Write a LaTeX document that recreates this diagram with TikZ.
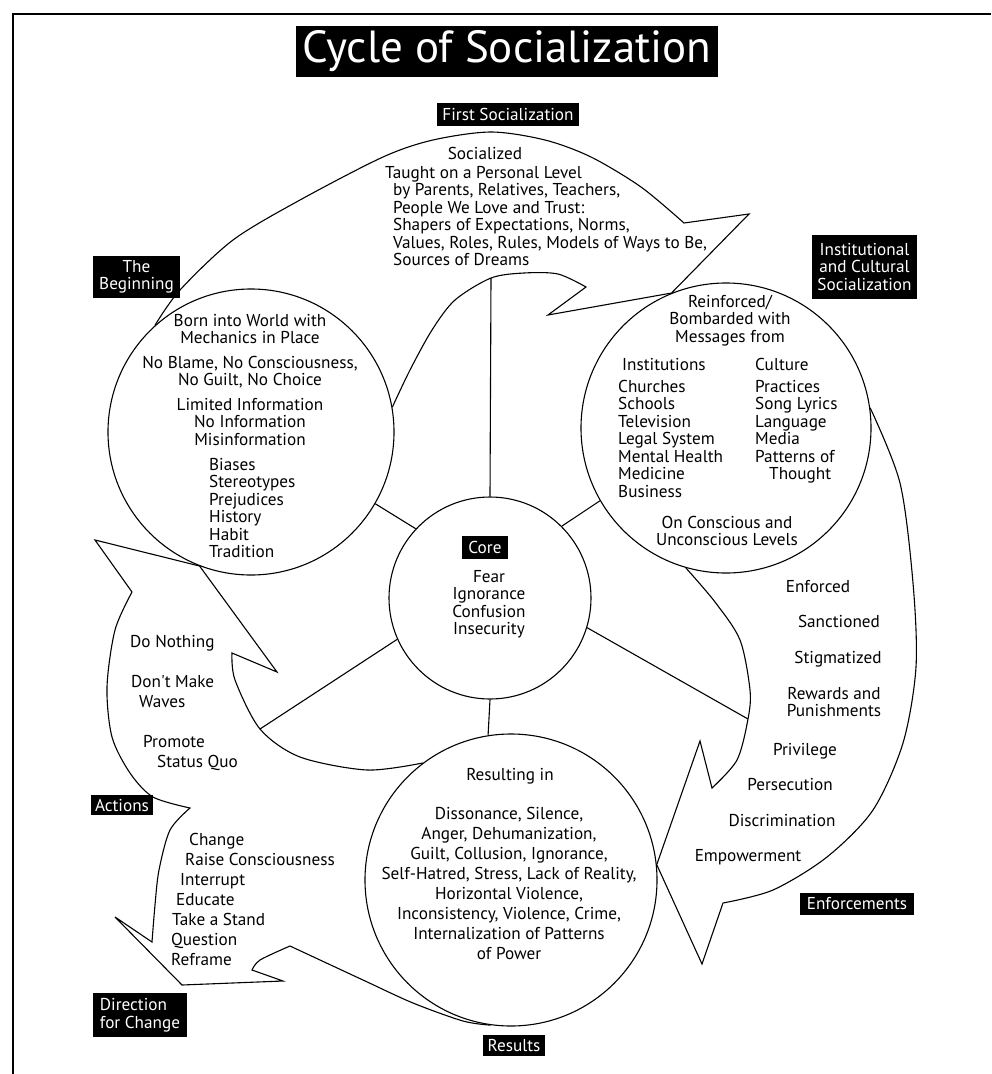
\documentclass[tikz,border=0pt]{standalone}
\usepackage{fontspec}
\setmainfont{PT Sans}[Ligatures=TeXOff]

\tikzset{
  tag/.style={fill=black, text=white, inner sep=2pt, align=center,
    font=\fontsize{17.2}{17.5}\selectfont},
  ring/.style={draw, circle, line width=1.1pt, inner sep=0pt},
  body/.style={inner sep=0pt, font=\fontsize{17.2}{17.5}\selectfont},
  widebody/.style={inner sep=0pt, font=\fontsize{17.2}{20}\selectfont},
  outline/.style={line width=1.1pt, line join=miter},
  spoke/.style={line width=1.1pt},
}

\begin{document}
\begin{tikzpicture}[x=1pt,y=-1pt]
\useasboundingbox (0,0) rectangle (991,1074);
% frame
\draw[line width=1.3pt] (13,1074) -- (13,14) -- (991,14);

\node[tag, minimum width=422pt, minimum height=51pt,
  font=\fontsize{45}{45}\selectfont] (title) at (507,51.5) {Cycle of Socialization};

% circles
\node[ring, minimum size=286pt] (begin) at (251,432) {};
\node[ring, minimum size=290pt] (inst) at (726,428) {};
\node[ring, minimum size=292pt] (results) at (511,880) {};
\node[ring, minimum size=202pt] (core) at (490,598) {};

\coordinate (topjoin) at (491,278);
\coordinate (leftjoin) at (260,729);
\coordinate (rightjoin) at (748,719);

% spokes
\draw[spoke] (core.90) -- (topjoin);
\draw[spoke] (core.137) -- (begin.330);
\draw[spoke] (core.45) -- (inst.210);
\draw[spoke] (core.204) -- (leftjoin);
\draw[spoke] (core.343) -- (rightjoin);
\draw[spoke] (core.270) -- (results.99);

% first socialization
\draw[outline] plot[smooth] coordinates {(begin.132) (180,290) (233,240) (300,200)
    (383,157) (433,140) (491,132) (545,140) (591,157) (641,187) (684,223)}
  -- (749,214) -- (inst.112) -- (548,315) -- (586,287)
  -- plot[smooth] coordinates {(586,287) (558,274) (524,273) (topjoin) (455,300)
    (432,330) (410,370) (begin.10)};

% enforcements
\draw[outline] plot[smooth] coordinates {(inst.8) (900,483) (913,583) (916,667)
    (903,743) (873,810) (827,857) (773,890) (723,903)}
  -- (702,964) -- (results.6) -- (700,741) -- (712,788)
  -- plot[smooth] coordinates {(712,788) (737,760) (rightjoin) (750,690) (740,640)
    (715,602) (inst.254)};

% actions and direction for change
\draw[outline] (begin.249) -- (95,540) -- (132,592)
  -- plot[smooth] coordinates {(132,592) (115,630) (107,687) (112,737) (130,773)
    (153,797) (190,808)}
  -- plot[smooth] coordinates {(190,808) (170,830) (159,870) (155,905) (152,942)}
  -- (115,917) -- (182,985) -- (283,981) -- (252,970)
  -- plot[smooth] coordinates {(252,970) (260,960) (290,946)}
  -- plot[smooth] coordinates {(290,946) (363,980) (413,1003) (463,1021) (results.262)};
\draw[outline] (begin.249) -- (277,672) -- (232,653)
  -- plot[smooth] coordinates {(232,653) (235,680) (leftjoin) (300,757) (367,770)
    (results.127)};

% labels
\node[tag, minimum width=142pt, minimum height=23pt] (firsttag) at (508,114.5) {First Socialization};
\node[tag, minimum width=87pt, minimum height=42pt] (begintag) at (136.5,277) {The\\ Beginning};
\node[tag, minimum width=105pt, minimum height=64pt] (insttag) at (864.5,267) {Institutional\\ and Cultural\\ Socialization};
\node[tag, minimum width=46pt, minimum height=23pt] (coretag) at (485,547.5) {Core};
\node[tag, minimum width=62pt, minimum height=20pt] (actionstag) at (122,805) {Actions};
\node[tag, minimum width=94pt, minimum height=44pt, align=left] (directiontag) at (140,1015) {Direction\\ for Change};
\node[tag, minimum width=62pt, minimum height=21pt] (resultstag) at (514,1045.5) {Results};
\node[tag, minimum width=114pt, minimum height=22pt] (enforcetag) at (857,904) {Enforcements};

% texts (multi-line nodes sit on the baseline of their last line)
\node[body, anchor=base] (socialized) at (485,159) {Socialized};
\node[body, anchor=base west, align=left] (taught) at (393,265.5) {\hspace*{-8pt}Taught on a Personal Level\\
  by Parents, Relatives, Teachers,\\ People We Love and Trust:\\ Shapers of Expectations, Norms,\\
  Values, Roles, Rules, Models of Ways to Be,\\ Sources of Dreams};

\node[body, anchor=base, align=center] (born) at (250,445) {Born into World with\\ Mechanics in Place\\[7pt]
  No Blame, No Consciousness,\\ No Guilt, No Choice\\[7pt]
  Limited Information\\ No Information\\ Misinformation};
\node[body, anchor=base west, align=left] (biases) at (209,557.5) {Biases\\ Stereotypes\\ Prejudices\\ History\\ Habit\\ Tradition};

\node[body, anchor=base, align=center] (reinforced) at (730,342) {Reinforced/\\ Bombarded with\\ Messages from};
\node[body, anchor=base west, align=left] (institutions) at (618,497) {\hspace*{4pt}Institutions\\[4.5pt]
  Churches\\ Schools\\ Television\\ Legal System\\ Mental Health\\ Medicine\\ Business};
\node[body, anchor=base west, align=left] (culture) at (755,479.5) {Culture\\[4.5pt]
  Practices\\ Song Lyrics\\ Language\\ Media\\ Patterns of\\ \hspace*{14pt}Thought};
\node[body, anchor=base, align=center] (levels) at (727,545.5) {On Conscious and\\ Unconscious Levels};

\node[body, anchor=base, align=center] (fears) at (489,634.5) {Fear\\ Ignorance\\ Confusion\\ Insecurity};

\node[body, anchor=base] (resulting) at (510,780) {Resulting in};
\node[widebody, anchor=base, align=center] (effects) at (509,959) {Dissonance, Silence,\\
  Anger, Dehumanization,\\ Guilt, Collusion, Ignorance,\\ Self-Hatred, Stress, Lack of Reality,\\
  Horizontal Violence,\\ Inconsistency, Violence, Crime,\\ Internalization of Patterns\\ of Power};

\node[widebody, anchor=base west, align=left] (inaction) at (130,767) {Do Nothing\\[20pt]
  \hspace*{1pt}Don't Make\\ \hspace*{9pt}Waves\\[20pt] \hspace*{13pt}Promote\\ \hspace*{27pt}Status Quo};
\node[widebody, anchor=base west, align=left] (change) at (171,965) {\hspace*{18pt}Change\\
  \hspace*{14pt}Raise Consciousness\\ \hspace*{9pt}Interrupt\\ \hspace*{5pt}Educate\\
  \hspace*{1pt}Take a Stand\\ Question\\ Reframe};

\foreach \x/\y/\t [count=\i] in {818/592/Enforced, 839/627/Sanctioned, 838/663/Stigmatized,
    805/755/Privilege, 790/790/Persecution, 782/826/Discrimination, 748/861/Empowerment}
  \node[body, anchor=base] (enf\i) at (\x,\y) {\t};
\node[body, anchor=base, align=center] (rewards) at (834,716.5) {Rewards and\\ Punishments};
\end{tikzpicture}
\end{document}
